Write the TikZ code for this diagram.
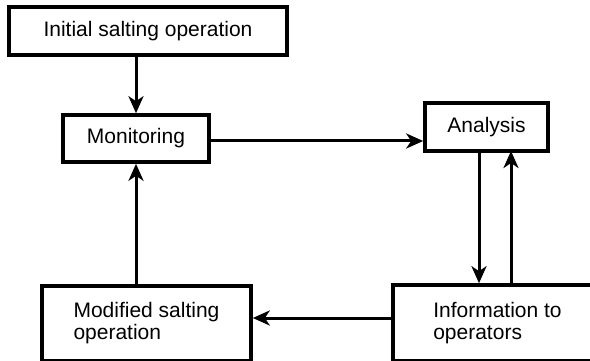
\documentclass[tikz,border=0pt]{standalone}
\usepackage{fontspec}
\setmainfont{Liberation Sans}
\usetikzlibrary{arrows.meta}
\tikzset{
  box/.style={draw=black, line width=3.6pt, fill=white, inner sep=0pt, font=\fontsize{21}{22}\selectfont},
  arr/.style={line width=3pt, -{Stealth[length=17pt, width=15pt, inset=5pt]}},
}
\begin{document}
\begin{tikzpicture}[x=1pt, y=-1pt]
\useasboundingbox (0,0) rectangle (590,361);
\clip (0,0) rectangle (590,361);
\node[box, minimum width=278pt, minimum height=48pt] (init) at (148,31) {Initial salting operation};
\node[box, minimum width=146pt, minimum height=47pt] (mon) at (136,138.5) {Monitoring};
\node[box, minimum width=123pt, minimum height=48pt] (ana) at (486.5,127) {Analysis};
\node[box, minimum width=209pt, minimum height=75pt, align=left] (mod) at (146.5,323.5) {Modified salting\\operation};
\node[box, minimum width=209pt, minimum height=76pt, align=left] (info) at (497.5,323) {Information to\\operators};
\coordinate (a1) at (479,151);
\coordinate (a2) at (511,151);
\draw[arr] (init.south -| mon.north) -- (mon.north);
\draw[arr] ([yshift=-2.5pt]mon.east) -- ([yshift=-2.5pt]mon.east -| ana.west);
\draw[arr] (a1) -- (a1 |- info.north);
\draw[arr] (a2 |- info.north) -- (a2);
\draw[arr] (info.west |- 0,318) -- (mod.east |- 0,318);
\draw[arr] (mod.north -| mon.south) -- (mon.south);
\end{tikzpicture}
\end{document}
